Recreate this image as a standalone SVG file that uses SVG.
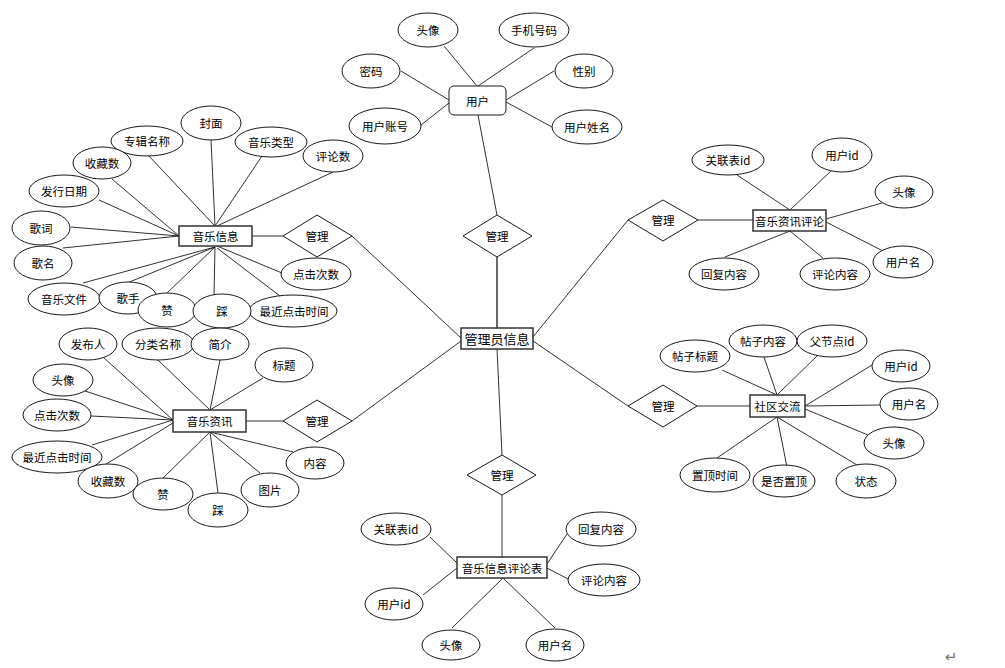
<svg xmlns="http://www.w3.org/2000/svg" width="1005" height="668" viewBox="0 0 1005 668">
<style>
.bg{fill:#fff}
.ln{stroke:#1a1a1a;stroke-width:0.9;fill:none}
.lk{stroke:#444;stroke-width:1.6;fill:none}
.at{fill:#fff;stroke:#1a1a1a;stroke-width:1}
.en{fill:#fff;stroke:#333;stroke-width:1.5}
.rl{fill:#fff;stroke:#1a1a1a;stroke-width:1}
text{font-family:"Noto Sans CJK SC","Noto Sans",sans-serif;font-size:11.5px;fill:#000;text-anchor:middle;dominant-baseline:central}
.big{font-size:13px}
</style>
<rect class="bg" x="0" y="0" width="1005" height="668"/>
<g id="connectors">
<line class="ln" x1="444" y1="46" x2="477" y2="86"/>
<line class="ln" x1="534" y1="48" x2="478" y2="86"/>
<line class="ln" x1="401" y1="71" x2="449" y2="100"/>
<line class="ln" x1="421" y1="125" x2="449" y2="103"/>
<line class="ln" x1="554" y1="71" x2="506" y2="100"/>
<line class="ln" x1="552" y1="127" x2="506" y2="102"/>
<line class="ln" x1="478" y1="115" x2="497" y2="215"/>
<line class="lk" x1="497" y1="257" x2="497" y2="328"/>
<line class="ln" x1="211" y1="140" x2="215" y2="226"/>
<line class="ln" x1="148" y1="155" x2="215" y2="226"/>
<line class="ln" x1="262" y1="156" x2="215" y2="226"/>
<line class="ln" x1="333" y1="172" x2="217" y2="226"/>
<line class="ln" x1="112" y1="179" x2="179" y2="236"/>
<line class="ln" x1="99" y1="200" x2="179" y2="236"/>
<line class="ln" x1="71" y1="227" x2="179" y2="236"/>
<line class="ln" x1="63" y1="248" x2="179" y2="236"/>
<line class="ln" x1="83" y1="283" x2="215" y2="247"/>
<line class="ln" x1="127" y1="283" x2="215" y2="247"/>
<line class="ln" x1="167" y1="293" x2="215" y2="247"/>
<line class="ln" x1="214" y1="295" x2="215" y2="247"/>
<line class="ln" x1="280" y1="296" x2="217" y2="248"/>
<line class="ln" x1="282" y1="273" x2="217" y2="246"/>
<line class="ln" x1="252" y1="236" x2="283" y2="236"/>
<line class="ln" x1="352" y1="236" x2="461" y2="338"/>
<line class="ln" x1="104" y1="358" x2="173" y2="420"/>
<line class="ln" x1="158" y1="360" x2="210" y2="410"/>
<line class="ln" x1="220" y1="360" x2="210" y2="410"/>
<line class="ln" x1="263" y1="378" x2="210" y2="410"/>
<line class="ln" x1="85" y1="391" x2="173" y2="420"/>
<line class="ln" x1="91" y1="416" x2="173" y2="420"/>
<line class="ln" x1="92" y1="445" x2="173" y2="420"/>
<line class="ln" x1="103" y1="466" x2="173" y2="423"/>
<line class="ln" x1="163" y1="478" x2="210" y2="432"/>
<line class="ln" x1="218" y1="493" x2="210" y2="432"/>
<line class="ln" x1="260" y1="473" x2="210" y2="432"/>
<line class="ln" x1="293" y1="452" x2="210" y2="432"/>
<line class="ln" x1="246" y1="421" x2="283" y2="421"/>
<line class="ln" x1="352" y1="421" x2="461" y2="341"/>
<line class="ln" x1="737" y1="175" x2="790" y2="210"/>
<line class="ln" x1="832" y1="170" x2="790" y2="210"/>
<line class="ln" x1="882" y1="203" x2="826" y2="219"/>
<line class="ln" x1="885" y1="252" x2="826" y2="222"/>
<line class="ln" x1="823" y1="258" x2="790" y2="231"/>
<line class="ln" x1="725" y1="257" x2="790" y2="231"/>
<line class="ln" x1="698" y1="220" x2="753" y2="220"/>
<line class="ln" x1="628" y1="220" x2="533" y2="337"/>
<line class="ln" x1="722" y1="370" x2="777" y2="395"/>
<line class="ln" x1="764" y1="357" x2="777" y2="395"/>
<line class="ln" x1="818" y1="355" x2="777" y2="395"/>
<line class="ln" x1="872" y1="365" x2="805" y2="406"/>
<line class="ln" x1="880" y1="405" x2="805" y2="406"/>
<line class="ln" x1="868" y1="435" x2="805" y2="409"/>
<line class="ln" x1="857" y1="465" x2="777" y2="417"/>
<line class="ln" x1="787" y1="467" x2="777" y2="417"/>
<line class="ln" x1="717" y1="458" x2="777" y2="417"/>
<line class="ln" x1="697" y1="406" x2="750" y2="406"/>
<line class="ln" x1="628" y1="406" x2="533" y2="341"/>
<line class="ln" x1="497" y1="349" x2="502" y2="455"/>
<line class="ln" x1="502" y1="495" x2="502" y2="557"/>
<line class="ln" x1="430" y1="537" x2="457" y2="563"/>
<line class="ln" x1="423" y1="595" x2="457" y2="568"/>
<line class="ln" x1="452" y1="628" x2="503" y2="578"/>
<line class="ln" x1="555" y1="628" x2="503" y2="578"/>
<line class="ln" x1="567" y1="534" x2="547" y2="564"/>
<line class="ln" x1="570" y1="580" x2="547" y2="568"/>
</g>

<g id="admin"><rect class="en" x="461" y="328" width="72" height="21"/><text class="big" x="497" y="338.5">管理员信息</text></g>

<g id="user"><rect class="at" x="449" y="86" width="57" height="29" rx="5"/><text x="477.5" y="100.5">用户</text></g>
<g id="user-avatar"><ellipse class="at" cx="428" cy="30" rx="30" ry="17"/><text x="428" y="30">头像</text></g>
<g id="user-phone"><ellipse class="at" cx="534" cy="30" rx="35" ry="17"/><text x="534" y="30">手机号码</text></g>
<g id="user-pwd"><ellipse class="at" cx="371" cy="71" rx="29" ry="17"/><text x="371" y="71">密码</text></g>
<g id="user-gender"><ellipse class="at" cx="584" cy="71" rx="29" ry="17"/><text x="584" y="71">性别</text></g>
<g id="user-account"><ellipse class="at" cx="385" cy="126" rx="36" ry="18"/><text x="385" y="126">用户账号</text></g>
<g id="user-name"><ellipse class="at" cx="587" cy="127" rx="35" ry="17"/><text x="587" y="127">用户姓名</text></g>
<g id="rel-user"><polygon class="rl" points="497,215 532,236 497,257 463,236"/><text x="497" y="236">管理</text></g>

<g id="music"><rect class="en" x="179" y="226" width="73" height="20"/><text x="215.5" y="236">音乐信息</text></g>
<g id="m-cover"><ellipse class="at" cx="211" cy="123" rx="30" ry="17"/><text x="211" y="123">封面</text></g>
<g id="m-album"><ellipse class="at" cx="147" cy="141" rx="36" ry="15"/><text x="147" y="141">专辑名称</text></g>
<g id="m-type"><ellipse class="at" cx="271" cy="142" rx="36" ry="15"/><text x="271" y="142">音乐类型</text></g>
<g id="m-fav"><ellipse class="at" cx="102" cy="163" rx="29" ry="16"/><text x="102" y="163">收藏数</text></g>
<g id="m-comments"><ellipse class="at" cx="333" cy="156" rx="30" ry="16"/><text x="333" y="156">评论数</text></g>
<g id="m-date"><ellipse class="at" cx="64" cy="191" rx="35" ry="16"/><text x="64" y="191">发行日期</text></g>
<g id="m-lyric"><ellipse class="at" cx="41" cy="228" rx="29" ry="17"/><text x="41" y="228">歌词</text></g>
<g id="m-title"><ellipse class="at" cx="43" cy="263" rx="29" ry="17"/><text x="43" y="263">歌名</text></g>
<g id="m-file"><ellipse class="at" cx="64" cy="299" rx="36" ry="16"/><text x="64" y="299">音乐文件</text></g>
<g id="m-clicks"><ellipse class="at" cx="316" cy="274" rx="35" ry="16"/><text x="316" y="274">点击次数</text></g>
<g id="m-singer"><ellipse class="at" cx="128" cy="298" rx="29" ry="16"/><text x="128" y="298">歌手</text></g>
<g id="m-last"><ellipse class="at" cx="293" cy="311" rx="44" ry="16"/><text x="294" y="311">最近点击时间</text></g>
<g id="m-like"><ellipse class="at" cx="167" cy="310" rx="29" ry="17"/><text x="167" y="310">赞</text></g>
<g id="m-dislike"><ellipse class="at" cx="222" cy="311" rx="29" ry="17"/><text x="222" y="311">踩</text></g>
<g id="rel-music"><polygon class="rl" points="317,215 352,236 317,257 283,236"/><text x="317" y="236">管理</text></g>

<g id="news"><rect class="en" x="173" y="410" width="73" height="22"/><text x="209.5" y="421">音乐资讯</text></g>
<g id="n-publisher"><ellipse class="at" cx="88" cy="344" rx="29" ry="16"/><text x="88" y="344">发布人</text></g>
<g id="n-category"><ellipse class="at" cx="158" cy="344" rx="36" ry="16"/><text x="158" y="344">分类名称</text></g>
<g id="n-intro"><ellipse class="at" cx="220" cy="344" rx="29" ry="16"/><text x="220" y="344">简介</text></g>
<g id="n-title"><ellipse class="at" cx="284" cy="365" rx="29" ry="17"/><text x="284" y="365">标题</text></g>
<g id="n-avatar"><ellipse class="at" cx="63" cy="380" rx="30" ry="16"/><text x="63" y="380">头像</text></g>
<g id="n-clicks"><ellipse class="at" cx="57" cy="415" rx="34" ry="16"/><text x="57" y="415">点击次数</text></g>
<g id="n-last"><ellipse class="at" cx="57" cy="457" rx="45" ry="16"/><text x="57" y="457">最近点击时间</text></g>
<g id="n-fav"><ellipse class="at" cx="108" cy="481" rx="30" ry="17"/><text x="108" y="481">收藏数</text></g>
<g id="n-like"><ellipse class="at" cx="163" cy="494" rx="30" ry="16"/><text x="163" y="494">赞</text></g>
<g id="n-dislike"><ellipse class="at" cx="218" cy="510" rx="30" ry="17"/><text x="218" y="510">踩</text></g>
<g id="n-image"><ellipse class="at" cx="270" cy="490" rx="29" ry="17"/><text x="270" y="490">图片</text></g>
<g id="n-content"><ellipse class="at" cx="315" cy="463" rx="29" ry="16"/><text x="315" y="463">内容</text></g>
<g id="rel-news"><polygon class="rl" points="317,400 352,421 317,442 283,421"/><text x="317" y="421">管理</text></g>

<g id="news-comment"><rect class="en" x="753" y="210" width="73" height="21"/><text x="789.5" y="220.5">音乐资讯评论</text></g>
<g id="nc-rel"><ellipse class="at" cx="728" cy="160" rx="36" ry="15"/><text x="728" y="160">关联表id</text></g>
<g id="nc-uid"><ellipse class="at" cx="842" cy="155" rx="30" ry="17"/><text x="842" y="155">用户id</text></g>
<g id="nc-avatar"><ellipse class="at" cx="904" cy="192" rx="29" ry="16"/><text x="904" y="192">头像</text></g>
<g id="nc-uname"><ellipse class="at" cx="903" cy="262" rx="30" ry="16"/><text x="903" y="262">用户名</text></g>
<g id="nc-content"><ellipse class="at" cx="835" cy="274" rx="35" ry="16"/><text x="835" y="274">评论内容</text></g>
<g id="nc-reply"><ellipse class="at" cx="724" cy="274" rx="35" ry="16"/><text x="724" y="274">回复内容</text></g>
<g id="rel-news-comment"><polygon class="rl" points="663,200 698,220 663,241 628,220"/><text x="663" y="220">管理</text></g>

<g id="community"><rect class="en" x="750" y="395" width="55" height="22"/><text x="777.5" y="406">社区交流</text></g>
<g id="c-title"><ellipse class="at" cx="695" cy="356" rx="35" ry="16"/><text x="695" y="356">帖子标题</text></g>
<g id="c-content"><ellipse class="at" cx="763" cy="341" rx="34" ry="16"/><text x="763" y="341">帖子内容</text></g>
<g id="c-parent"><ellipse class="at" cx="832" cy="341" rx="35" ry="16"/><text x="832" y="341">父节点id</text></g>
<g id="c-uid"><ellipse class="at" cx="901" cy="366" rx="29" ry="16"/><text x="901" y="366">用户id</text></g>
<g id="c-uname"><ellipse class="at" cx="909" cy="404" rx="29" ry="16"/><text x="909" y="404">用户名</text></g>
<g id="c-avatar"><ellipse class="at" cx="894" cy="443" rx="30" ry="16"/><text x="894" y="443">头像</text></g>
<g id="c-status"><ellipse class="at" cx="866" cy="481" rx="30" ry="17"/><text x="866" y="481">状态</text></g>
<g id="c-top"><ellipse class="at" cx="784" cy="481" rx="31" ry="16"/><text x="784" y="481">是否置顶</text></g>
<g id="c-toptime"><ellipse class="at" cx="715" cy="475" rx="35" ry="17"/><text x="715" y="475">置顶时间</text></g>
<g id="rel-community"><polygon class="rl" points="663,385 697,406 663,427 628,406"/><text x="663" y="406">管理</text></g>

<g id="music-comment"><rect class="en" x="457" y="557" width="90" height="21"/><text x="502" y="567.5">音乐信息评论表</text></g>
<g id="mc-rel"><ellipse class="at" cx="396" cy="529" rx="35" ry="16"/><text x="396" y="529">关联表id</text></g>
<g id="mc-uid"><ellipse class="at" cx="394" cy="604" rx="29" ry="16"/><text x="394" y="604">用户id</text></g>
<g id="mc-avatar"><ellipse class="at" cx="451" cy="645" rx="29" ry="15"/><text x="451" y="645">头像</text></g>
<g id="mc-uname"><ellipse class="at" cx="555" cy="645" rx="29" ry="16"/><text x="555" y="645">用户名</text></g>
<g id="mc-reply"><ellipse class="at" cx="601" cy="529" rx="35" ry="17"/><text x="601" y="529">回复内容</text></g>
<g id="mc-content"><ellipse class="at" cx="604" cy="580" rx="36" ry="16"/><text x="604" y="580">评论内容</text></g>
<g id="rel-music-comment"><polygon class="rl" points="502,455 536,475 502,495 467,475"/><text x="502" y="475">管理</text></g>

<text x="951" y="657" style="font-family:'DejaVu Sans',sans-serif;font-size:15px;fill:#777">↵</text>
</svg>
